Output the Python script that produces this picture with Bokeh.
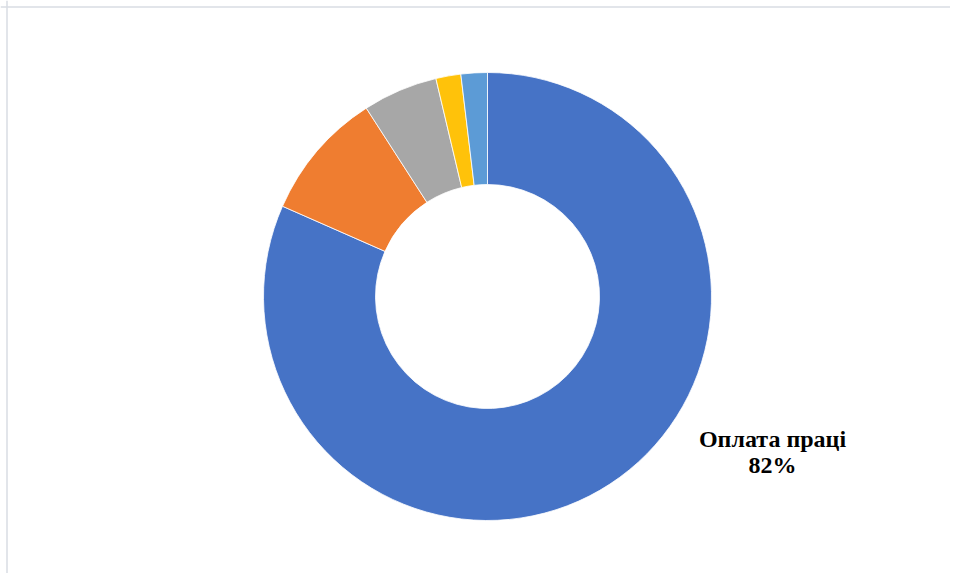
import math
from bokeh.plotting import figure
from bokeh.models import Range1d, Span, ColumnDataSource
from bokeh.core.properties import value
from bokeh.embed import file_html
from bokeh.resources import INLINE

# data
categories = ["Оплата праці", "Нарахування на оплату праці", "Матеріальні витрати",
              "Амортизація", "Інші витрати"]
shares = [81.6, 9.3, 5.4, 1.8, 1.9]
colors = ["#4673C6", "#EF7D30", "#A7A7A7", "#FFC20A", "#5C9BD6"]

W, H = 950, 573
p = figure(width=W, height=H, output_backend="svg", toolbar_location=None,
           x_range=Range1d(0, W), y_range=Range1d(0, H), min_border=0,
           outline_line_color=None, background_fill_color="white")
p.axis.visible = False
p.grid.visible = False

cx, cy = 487, 277
r_out, r_in = 224, 112

total = sum(shares)
starts, ends = [], []
a = math.pi / 2
for s in shares:
    starts.append(a)
    a -= s / total * 2 * math.pi
    ends.append(a)

src = ColumnDataSource(dict(start=starts, end=ends, color=colors, cat=categories))
p.annular_wedge(x=cx, y=cy, inner_radius=r_in, outer_radius=r_out,
                start_angle="start", end_angle="end", direction="clock",
                fill_color="color", line_color="white", line_width=0.8,
                inner_radius_units="screen", outer_radius_units="screen", source=src)

# label for the largest slice
lab_x, lab_y = cx + 285, cy - 155
p.text(x=[lab_x], y=[lab_y], text=[f"{categories[0]}\n{round(shares[0])}%"],
       text_font=value("'Times New Roman', 'Liberation Serif', serif"), text_font_style="bold",
       text_font_size="24px", text_align="center", text_baseline="middle",
       text_line_height=1.0, text_color="black")

# chart border (top and left visible)
p.add_layout(Span(location=H - 6.5, dimension="width", line_color="#D9DDE3", line_width=1.5))
p.add_layout(Span(location=6.5, dimension="height", line_color="#D9DDE3", line_width=1.5))

open("out.html", "w").write(file_html(p, INLINE))
